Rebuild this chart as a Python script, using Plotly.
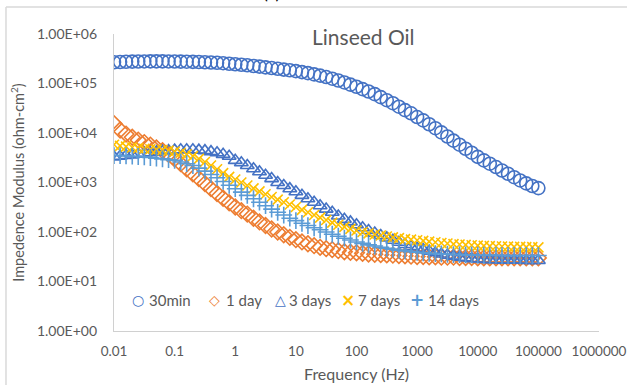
import plotly.graph_objects as go

freq = [0.01, 0.0126, 0.0158, 0.02, 0.0251, 0.0316, 0.0398, 0.0501, 0.0631, 0.0794,
        0.1, 0.126, 0.158, 0.2, 0.251, 0.316, 0.398, 0.501, 0.631, 0.794,
        1, 1.26, 1.58, 2, 2.51, 3.16, 3.98, 5.01, 6.31, 7.94,
        10, 12.6, 15.8, 20, 25.1, 31.6, 39.8, 50.1, 63.1, 79.4,
        100, 126, 158, 200, 251, 316, 398, 501, 631, 794,
        1000, 1260, 1580, 2000, 2510, 3160, 3980, 5010, 6310, 7940,
        10000, 12600, 15800, 20000, 25100, 31600, 39800, 50100, 63100, 79400,
        100000]

z_30min = [268e3, 272e3, 275e3, 277e3, 278e3, 279e3, 280e3, 280e3, 280e3, 279e3,
           278e3, 277e3, 276e3, 274e3, 272e3, 269e3, 266e3, 262e3, 257e3, 251e3,
           245e3, 239e3, 233e3, 226e3, 219e3, 212e3, 205e3, 198e3, 191e3, 185e3,
           178e3, 170e3, 162e3, 153e3, 144e3, 135e3, 125e3, 115e3, 105e3, 95e3,
           86e3, 77e3, 69e3, 61e3, 53e3, 46e3, 40e3, 34e3, 29e3, 25e3,
           21e3, 18e3, 15e3, 12.5e3, 10.3e3, 8.5e3, 7.0e3, 5.8e3, 4.8e3, 4.0e3,
           3.3e3, 2.8e3, 2.4e3, 2.05e3, 1.75e3, 1.5e3, 1.28e3, 1.1e3, 960, 850,
           770]

z_1day = [15.5e3, 11.5e3, 9.5e3, 8.2e3, 7.2e3, 6.4e3, 5.7e3, 5.0e3, 4.4e3, 3.7e3,
          3.0e3, 2.4e3, 1.9e3, 1.5e3, 1.2e3, 950, 750, 600, 480, 390,
          320, 270, 230, 190, 160, 135, 115, 100, 88, 78,
          70, 63, 58, 53, 49, 46, 44, 42, 40, 39,
          38, 37, 36, 35.5, 35, 34.5, 34, 33.5, 33, 32.5,
          32, 32, 31.5, 31.5, 31, 31, 31, 30.5, 30.5, 30.5,
          30, 30, 30, 30, 30, 30, 30, 30, 30, 30,
          30]

z_3days = [3.3e3, 3.4e3, 3.5e3, 3.6e3, 3.75e3, 3.9e3, 4.0e3, 4.15e3, 4.3e3, 4.4e3,
           4.5e3, 4.6e3, 4.6e3, 4.6e3, 4.5e3, 4.4e3, 4.2e3, 4.0e3, 3.7e3, 3.4e3,
           2.8e3, 2.5e3, 2.2e3, 1.9e3, 1.65e3, 1.4e3, 1.2e3, 1.0e3, 870, 750,
           650, 550, 470, 400, 340, 290, 250, 210, 180, 160,
           140, 122, 107, 95, 85, 76, 68, 62, 56, 51,
           47, 44, 41, 38, 36, 34, 32.5, 31, 30, 29,
           28.5, 28, 27.5, 27.5, 27, 27, 27, 27, 26.5, 26.5,
           26.5]

z_7days = [5.8e3, 5.5e3, 5.3e3, 5.1e3, 4.95e3, 4.8e3, 4.7e3, 4.6e3, 4.5e3, 4.4e3,
           4.2e3, 4.0e3, 3.7e3, 3.4e3, 3.0e3, 2.6e3, 2.2e3, 1.85e3, 1.55e3, 1.3e3,
           1.15e3, 1.0e3, 870, 760, 660, 580, 510, 450, 400, 360,
           320, 280, 250, 220, 195, 175, 155, 140, 127, 116,
           107, 100, 94, 89, 85, 81, 78, 75, 72, 70,
           68, 66, 64, 62, 60, 58.5, 57, 56, 55, 54,
           53, 52.5, 52, 51.5, 51, 50.5, 50, 50, 49.5, 49.5,
           49]

z_14days = [3.5e3, 3.5e3, 3.45e3, 3.4e3, 3.35e3, 3.3e3, 3.2e3, 3.1e3, 3.0e3, 2.9e3,
            2.8e3, 2.6e3, 2.4e3, 2.2e3, 1.95e3, 1.7e3, 1.45e3, 1.25e3, 1.05e3, 880,
            750, 640, 550, 470, 400, 340, 290, 250, 220, 190,
            170, 150, 135, 122, 111, 100, 90, 82, 75, 69,
            63, 59, 55, 52, 49, 47, 45, 43, 41.5, 40,
            39, 38, 37, 36.5, 36, 35.5, 35, 35, 34.5, 34.5,
            34, 34, 34, 34, 33.5, 33.5, 33.5, 33.5, 33.5, 33.5,
            33.5]

series_names = ["30min", "1 day", "3 days", "7 days", "14 days"]
series_values = [z_30min, z_1day, z_3days, z_7days, z_14days]
colors = ["#4472C4", "#ED7D31", "#4472C4", "#FFC000", "#5B9BD5"]
symbols = ["circle-open", "diamond-open", "triangle-up-open", "x-thin-open", "cross-thin-open"]
sizes = [13, 12, 12, 10, 12]
legend_glyphs = ["○", "◇", "△", "×", "+"]

x_ticks = [0.01, 0.1, 1, 10, 100, 1000, 10000, 100000, 1000000]
x_ticklabels = ["0.01", "0.1", "1", "10", "100", "1000", "10000", "100000", "1000000"]
y_ticks = [1, 10, 100, 1000, 10000, 100000, 1000000]
y_ticklabels = ["1.00E+00", "1.00E+01", "1.00E+02", "1.00E+03", "1.00E+04", "1.00E+05", "1.00E+06"]

FONT = "Lato"
GRAY = "#595959"

fig = go.Figure()
for name, vals, c, s, sz in zip(series_names, series_values, colors, symbols, sizes):
    fig.add_trace(go.Scatter(
        x=freq, y=vals, name=name, mode="markers", showlegend=False,
        marker=dict(symbol=s, size=sz, color=c, line=dict(color=c, width=1.6)),
    ))

# legend built as text (glyph + label) to match the compact Excel legend
PL, PW = 114, 485
glyph_px = [138, 214, 280, 348, 417]
text_px = [147, 224, 287, 356, 426]
legend_y = (331 - 300) / 297
annotations = []
for g, t, gx, tx, c in zip(legend_glyphs, series_names, glyph_px, text_px, colors):
    annotations.append(dict(text="<b>" + g + "</b>", xref="paper", yref="paper",
                            x=(gx - PL) / PW, y=legend_y,
                            xanchor="center", yanchor="middle", showarrow=False,
                            font=dict(size=14 if g in "○◇△" else 17, color=c, family="DejaVu Sans")))
    annotations.append(dict(text=t, xref="paper", yref="paper", x=(tx - PL) / PW, y=legend_y,
                            xanchor="left", yanchor="middle", showarrow=False,
                            font=dict(size=15, color=GRAY, family=FONT)))

annotations += [
    dict(text="Linseed Oil", xref="paper", yref="paper", x=(363 - PL) / PW, y=0.99,
         xanchor="center", yanchor="middle", showarrow=False,
         font=dict(size=21, color=GRAY, family=FONT)),
    dict(text="(c)", xref="paper", yref="paper", x=0.324, y=1.0985,
         xanchor="center", yanchor="bottom", showarrow=False,
         font=dict(size=18, color="#000000", family=FONT)),
]

fig.update_layout(
    width=627, height=385,
    margin=dict(l=114, r=28, t=34, b=54),
    paper_bgcolor="white", plot_bgcolor="white",
    font=dict(family=FONT, color=GRAY, size=13),
    showlegend=False,
    xaxis=dict(type="log", range=[-2, 6], tickvals=x_ticks, ticktext=x_ticklabels,
               showgrid=False, zeroline=False, showline=True, linecolor="#D0D0D0",
               linewidth=1.3, ticks="", tickfont=dict(size=13.5, color=GRAY),
               ticklabelstandoff=8, ticklabeloverflow="allow", automargin=False,
               title=dict(text="Frequency (Hz)", font=dict(size=16, color=GRAY), standoff=10)),
    yaxis=dict(type="log", range=[0, 6], tickvals=y_ticks, ticktext=y_ticklabels,
               showgrid=False, zeroline=False, showline=True, linecolor="#D0D0D0",
               linewidth=1.3, ticks="", tickfont=dict(size=14, color=GRAY),
               ticklabelstandoff=13, automargin=False,
               title=dict(text="Impedence Modulus (ohm-cm<sup>2</sup>)",
                          font=dict(size=14.5, color=GRAY), standoff=8)),
    annotations=annotations,
    shapes=[
        dict(type="line", xref="paper", yref="paper", x0=-0.2227, x1=1.2,
             y0=1.0909, y1=1.0909, line=dict(color="#D9D9D9", width=1.5)),
        dict(type="line", xref="paper", yref="paper", x0=-0.2227, x1=-0.2227,
             y0=1.0909, y1=-0.3, line=dict(color="#D9D9D9", width=1.5)),
    ],
)

fig.write_html("out.html")
